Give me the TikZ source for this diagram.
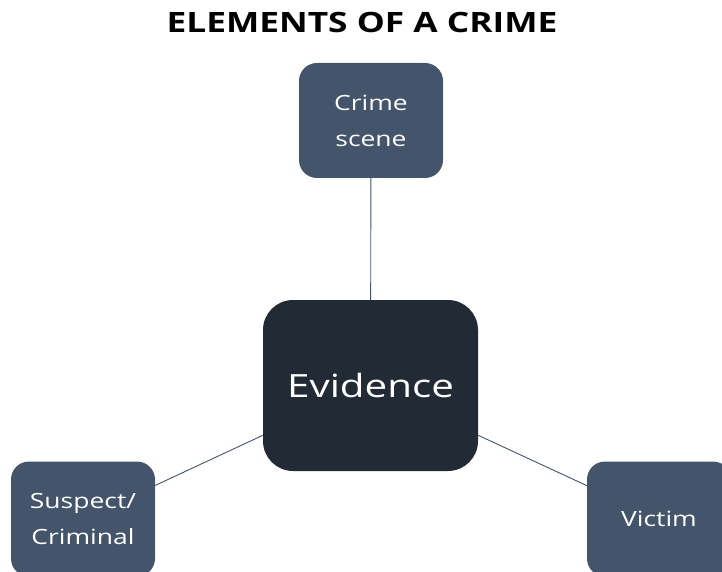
\documentclass[tikz,border=0pt]{standalone}
\usepackage{fontspec}
\setmainfont[FakeStretch=1.26]{Open Sans}
\usetikzlibrary{positioning}

\definecolor{slateblue}{HTML}{44546A}
\definecolor{darknavy}{HTML}{222A35}

\tikzset{
  element/.style={rectangle, rounded corners=18pt, fill=slateblue, text=white,
    minimum width=144pt, minimum height=115pt, align=center, font=\fontsize{21}{36}\selectfont},
  core/.style={rectangle, rounded corners=30pt, fill=darknavy, text=white,
    minimum width=215pt, minimum height=171pt, font=\fontsize{32}{38}\selectfont},
  link/.style={draw=slateblue, line width=0.9pt}
}

\begin{document}
\begin{tikzpicture}[x=1pt,y=1pt]
% page frame
\useasboundingbox (0,0) rectangle (722,571);
\clip (0,0) rectangle (722,571);

% title
\node (title) at (362,549) {\fontsize{28}{32}\selectfont\bfseries ELEMENTS OF A CRIME};

% boxes
\node[core] (evid) at (370.5,185.5) {Evidence};
\node[element] (scene) at (371,450.5) {Crime\\scene};
\node[element] (suspect) at (83,52) {Suspect/\\Criminal};
\node[element] (victim) at (659,52) {Victim};

% connectors
\draw[link] (scene) -- (evid);
\draw[link] (suspect) -- (evid);
\draw[link] (victim) -- (evid);

\end{tikzpicture}
\end{document}
